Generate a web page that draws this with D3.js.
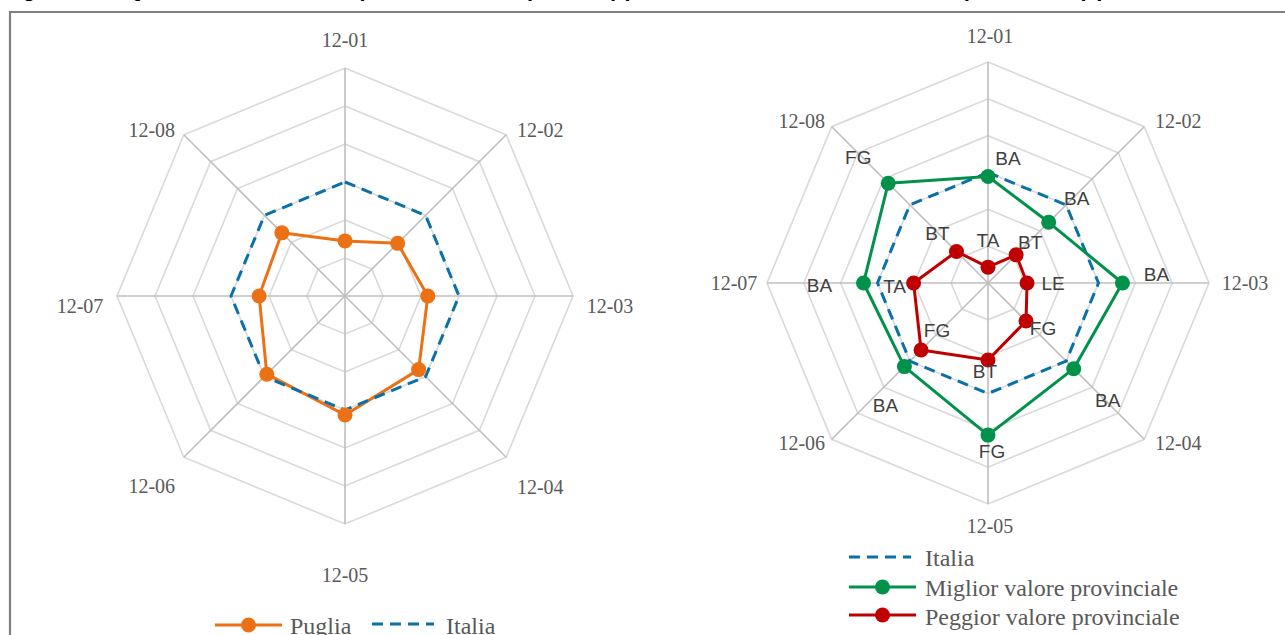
<!DOCTYPE html>
<html>
<head>
<meta charset="utf-8">
<script src="https://cdn.jsdelivr.net/npm/d3@7"></script>
<style>
  html, body { margin: 0; padding: 0; background: #ffffff; }
  svg { display: block; }
</style>
</head>
<body>
<svg id="chart" width="1285" height="635"></svg>
<script>
// ---------------- DATA ----------------
const axisLabels = ["12-01", "12-02", "12-03", "12-04", "12-05", "12-06", "12-07", "12-08"];
const ringTicks = [70, 80, 90, 100, 110, 120, 130];
const pugliaValues = [84.5, 89.6, 91.8, 97.4, 101.3, 99.1, 92.6, 93.5];
const italiaValues = [100, 100, 100, 100, 100, 100, 100, 100];
const migliorValues = [98.9, 93.3, 106.5, 102.9, 111.3, 102.1, 103.8, 108.3];
const migliorProvince = ["BA", "BA", "BA", "BA", "FG", "BA", "BA", "FG"];
const peggiorValues = [74.3, 80.8, 80.6, 84.6, 90.9, 95.7, 90.2, 82.1];
const peggiorProvince = ["TA", "BT", "LE", "FG", "BT", "FG", "TA", "BT"];
const titleParts = ["Figura 12 – Qualità dei servizi", "(ultimo anno disponibile)", "(valori standardizzati, Italia = 100)", "(a)"];

// ---------------- LAYOUT (positions / styles only) ----------------
const leftAxisLabelOffset = [[0,-21],[34,2],[37,17],[34,37],[0,58],[-32,36],[-37,17],[-32,2]];
const rightAxisLabelOffset = [[2,-19],[34,1],[36,7],[34,11],[2,29],[-30,11],[-33,7],[-30,1]];
const migliorLabelOffset = [[20,-18],[28,-24],[34,-9],[34,31],[4,16],[-19,39],[-44,2],[-30,-26]];
const peggiorLabelOffset = [[0,-27],[14,-13],[26,0],[17,7],[-3,11],[16,-20],[-19,3],[-19,-18]];
const titleX = [3, 357, 622, 1078];

const COL = {
  orange: "#EC7014",
  blue: "#0A70AA",
  green: "#00914B",
  red: "#C00000",
  ring: "#D9D9D9",
  spoke: "#BFBFBF",
  axisText: "#595959",
  dataText: "#404040",
  frame: "#808080"
};
const DASH = "11,7";

const svg = d3.select("#chart");

// frame
svg.append("path")
  .attr("d", "M10,636 L10,12 L1286,12")
  .attr("fill", "none")
  .attr("stroke", COL.frame)
  .attr("stroke-width", 2.2);

// clipped title (only descenders visible above the frame, as in the reference)
const title = svg.append("text")
  .attr("y", -4)
  .attr("font-family", "Liberation Sans, Arial, sans-serif")
  .attr("font-weight", "bold")
  .attr("font-size", 22)
  .attr("fill", "#000");
titleParts.forEach((t, i) => {
  title.append("tspan").attr("x", titleX[i]).text(t);
});

function radar(opts) {
  const { cx, cy, R, labelOffset } = opts;
  const g = svg.append("g");
  const r = d3.scaleLinear().domain([ringTicks[0], ringTicks[ringTicks.length - 1]]).range([0, R]);
  const ang = d3.scaleLinear().domain([0, axisLabels.length]).range([0, 2 * Math.PI]);
  const pt = (i, v) => [cx + r(v) * Math.sin(ang(i)), cy - r(v) * Math.cos(ang(i))];
  const closed = d3.line().curve(d3.curveLinearClosed);

  g.selectAll(".ring").data(ringTicks.slice(1)).join("path")
    .attr("d", t => closed(axisLabels.map((_, i) => pt(i, t))))
    .attr("fill", "none")
    .attr("stroke", COL.ring)
    .attr("stroke-width", 1.6);

  g.selectAll(".spoke").data(axisLabels).join("line")
    .attr("x1", cx).attr("y1", cy)
    .attr("x2", (d, i) => pt(i, ringTicks[ringTicks.length - 1])[0])
    .attr("y2", (d, i) => pt(i, ringTicks[ringTicks.length - 1])[1])
    .attr("stroke", COL.spoke)
    .attr("stroke-width", 1.6);

  g.selectAll(".alab").data(axisLabels).join("text")
    .attr("x", (d, i) => pt(i, ringTicks[ringTicks.length - 1])[0] + labelOffset[i][0])
    .attr("y", (d, i) => pt(i, ringTicks[ringTicks.length - 1])[1] + labelOffset[i][1])
    .attr("text-anchor", "middle")
    .attr("font-family", "Liberation Serif, DejaVu Serif, serif")
    .attr("font-size", 20)
    .attr("fill", COL.axisText)
    .text(d => d);

  return {
    line(values, color, dashed) {
      g.append("path")
        .attr("d", closed(values.map((v, i) => pt(i, v))))
        .attr("fill", "none")
        .attr("stroke", color)
        .attr("stroke-width", 3)
        .attr("stroke-linejoin", "round")
        .attr("stroke-dasharray", dashed ? DASH : null);
    },
    markers(values, color) {
      g.append("g").selectAll("circle").data(values).join("circle")
        .attr("cx", (v, i) => pt(i, v)[0])
        .attr("cy", (v, i) => pt(i, v)[1])
        .attr("r", 7.5)
        .attr("fill", color);
    },
    labels(values, texts, offsets) {
      g.append("g").selectAll("text").data(values).join("text")
        .attr("x", (v, i) => pt(i, v)[0] + offsets[i][0])
        .attr("y", (v, i) => pt(i, v)[1] + offsets[i][1])
        .attr("dy", "0.36em")
        .attr("text-anchor", "middle")
        .attr("font-family", "Liberation Sans Narrow, Liberation Sans, Arial, sans-serif")
        .attr("font-size", 19)
        .attr("fill", COL.dataText)
        .text((v, i) => texts[i]);
    }
  };
}

// ---------- Left radar: Puglia vs Italia ----------
const left = radar({ cx: 345, cy: 296, R: 228, labelOffset: leftAxisLabelOffset });
left.line(pugliaValues, COL.orange, false);
left.line(italiaValues, COL.blue, true);
left.markers(pugliaValues, COL.orange);

// ---------- Right radar: Italia, best and worst province ----------
const right = radar({ cx: 988, cy: 283, R: 221, labelOffset: rightAxisLabelOffset });
right.line(italiaValues, COL.blue, true);
right.line(migliorValues, COL.green, false);
right.markers(migliorValues, COL.green);
right.line(peggiorValues, COL.red, false);
right.markers(peggiorValues, COL.red);
right.labels(migliorValues, migliorProvince, migliorLabelOffset);
right.labels(peggiorValues, peggiorProvince, peggiorLabelOffset);

// ---------- Legends ----------
function legendItem(x1, x2, y, color, dashed, marker, label, tx, ty) {
  const lg = svg.append("g");
  lg.append("line")
    .attr("x1", x1).attr("x2", x2).attr("y1", y).attr("y2", y)
    .attr("stroke", color).attr("stroke-width", 3)
    .attr("stroke-dasharray", dashed ? DASH : null);
  if (marker) {
    lg.append("circle").attr("cx", (x1 + x2) / 2).attr("cy", y).attr("r", 7.5).attr("fill", color);
  }
  lg.append("text")
    .attr("x", tx).attr("y", ty)
    .attr("font-family", "Liberation Serif, DejaVu Serif, serif")
    .attr("font-size", 24)
    .attr("fill", COL.axisText)
    .text(label);
}
legendItem(215, 282, 625, COL.orange, false, true, "Puglia", 290, 634);
legendItem(372, 434, 624, COL.blue, true, false, "Italia", 446, 634);

legendItem(849, 911, 557, COL.blue, true, false, "Italia", 925, 566);
legendItem(849, 916, 587, COL.green, false, true, "Miglior valore provinciale", 925, 596);
legendItem(849, 916, 615, COL.red, false, true, "Peggior valore provinciale", 925, 625);
</script>
</body>
</html>
